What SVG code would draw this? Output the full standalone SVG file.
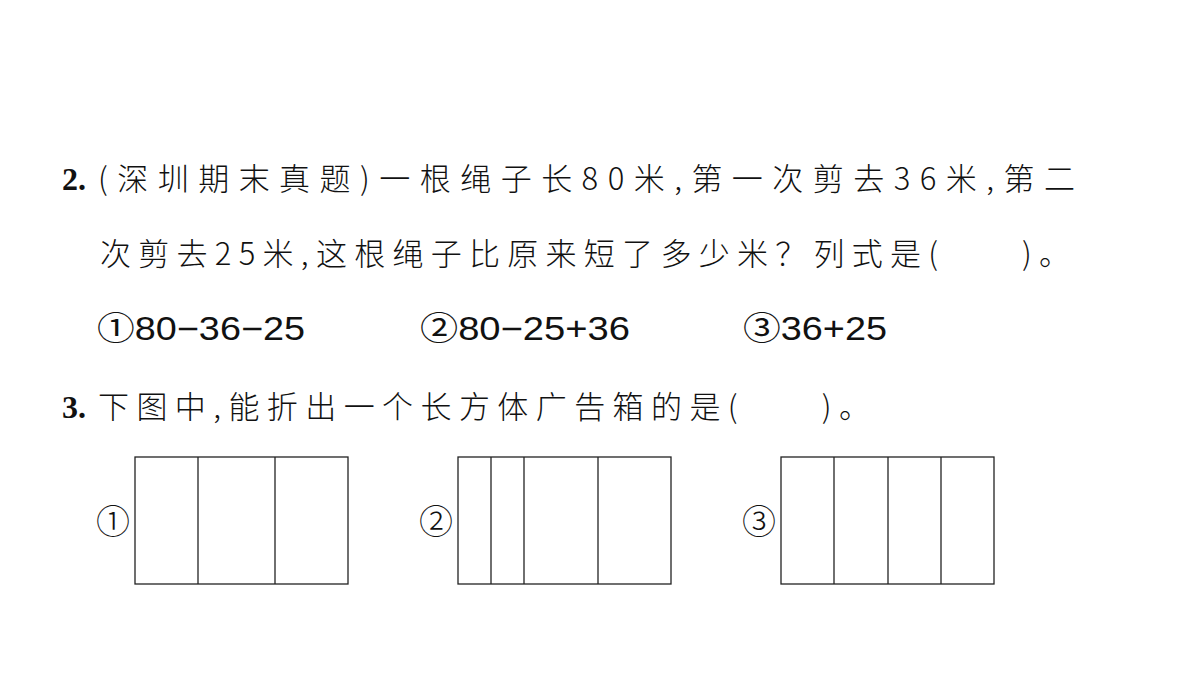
<svg xmlns="http://www.w3.org/2000/svg" width="1200" height="675" viewBox="0 0 1200 675">
<style>
.t{font-family:"Noto Sans CJK SC","Liberation Sans",sans-serif;font-size:31px;font-weight:300;fill:#111}
.n{font-family:"Liberation Serif",serif;font-weight:bold;font-size:32px;fill:#111}
.o{font-family:"Liberation Sans","Noto Sans CJK SC",sans-serif;font-size:33px;fill:#111}
.c{font-family:"Noto Sans CJK SC",sans-serif;font-size:34px;font-weight:300;fill:#111}
rect,line{fill:none;stroke:#222;stroke-width:1.3}
</style>
<rect x="0" y="0" width="1200" height="675" style="fill:#fff;stroke:none"/>
<text class="n" x="62" y="190">2.</text>
<text class="t" x="98" y="190" textLength="977" lengthAdjust="spacing">(深圳期末真题)一根绳子长80米,第一次剪去36米,第二</text>
<text class="t" x="100" y="265" textLength="970" lengthAdjust="spacing">次剪去25米,这根绳子比原来短了多少米？列式是(　　)。</text>
<text class="o" x="97" y="340" textLength="208" lengthAdjust="spacingAndGlyphs">①80−36−25</text>
<text class="o" x="420" y="340" textLength="210" lengthAdjust="spacingAndGlyphs">②80−25+36</text>
<text class="o" x="743" y="340" textLength="144" lengthAdjust="spacingAndGlyphs">③36+25</text>
<text class="n" x="62" y="418">3.</text>
<text class="t" x="98" y="418" textLength="772" lengthAdjust="spacing">下图中,能折出一个长方体广告箱的是(　　)。</text>
<g id="net1"><text class="c" x="96" y="534">①</text><rect x="135" y="457" width="213" height="127"/><line x1="198" y1="457" x2="198" y2="584"/><line x1="275" y1="457" x2="275" y2="584"/></g>
<g id="net2"><text class="c" x="419" y="534">②</text><rect x="458" y="457" width="213" height="127"/><line x1="491" y1="457" x2="491" y2="584"/><line x1="524" y1="457" x2="524" y2="584"/><line x1="598" y1="457" x2="598" y2="584"/></g>
<g id="net3"><text class="c" x="742" y="534">③</text><rect x="781" y="457" width="213" height="127"/><line x1="834" y1="457" x2="834" y2="584"/><line x1="888" y1="457" x2="888" y2="584"/><line x1="941" y1="457" x2="941" y2="584"/></g>
</svg>
